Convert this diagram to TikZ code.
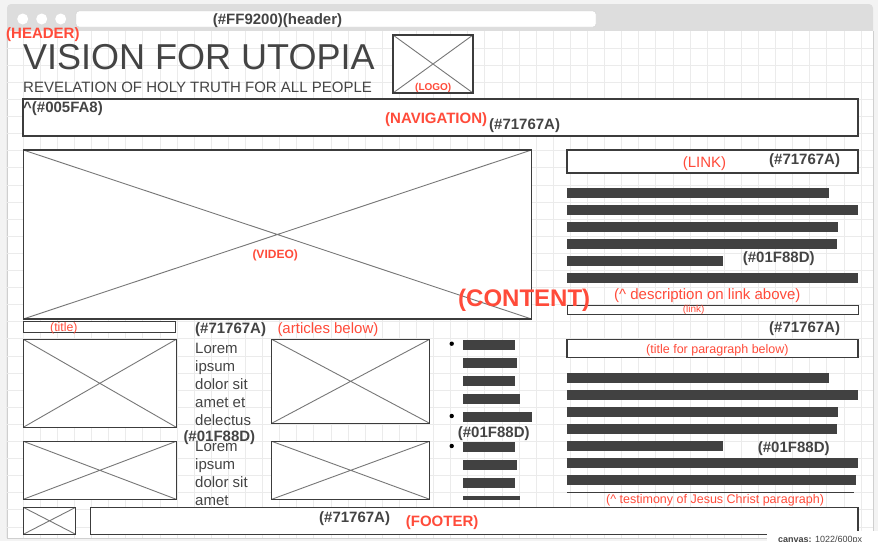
\documentclass[tikz,border=0pt]{standalone}
\usepackage{fontspec}
\setmainfont{Liberation Sans}
\definecolor{ink}{HTML}{444444}
\definecolor{boxline}{HTML}{3C3C3C}
\definecolor{crossgray}{HTML}{777777}
\definecolor{barfill}{HTML}{414141}
\definecolor{notered}{HTML}{FF4B3A}
\definecolor{gridgray}{HTML}{EBEBEB}
\definecolor{chrome}{HTML}{DDDDDD}
\definecolor{chromeline}{HTML}{CFCFCF}
\definecolor{pagebg}{HTML}{F3F3F3}
\newcommand{\pxfont}[1]{\fontsize{#1}{#1}\selectfont}
\tikzset{
  wirebox/.style={draw=boxline, line width=1.05pt, fill=white},
  imgbox/.style={wirebox, path picture={
      \draw[crossgray, line width=0.9pt] (path picture bounding box.north west) -- (path picture bounding box.south east)
        (path picture bounding box.north east) -- (path picture bounding box.south west);}},
  textbar/.style={fill=barfill},
  gridline/.style={draw=gridgray, line width=0.8pt},
  lbl/.style={inner sep=0pt, anchor=base west},
  hexlbl/.style={lbl, text=ink, font=\pxfont{15}\bfseries},
  redbold/.style={lbl, text=notered, font=\bfseries},
  rednote/.style={lbl, text=notered},
  bodytxt/.style={lbl, text=ink, font=\pxfont{15}},
}
\begin{document}
\begin{tikzpicture}[x=1pt, y=-1pt]
  \useasboundingbox (0,0) rectangle (878,541);
  \clip (0,0) rectangle (878,541);
  % window chrome
  \fill[pagebg] (0,0) rectangle (878,541);
  \fill[chrome, rounded corners=4pt] (7,4) rectangle (873,44);
  \fill[white] (7,31) rectangle (873,538);
  \draw[chromeline] (7,31) -- (7,538) -- (873,538) -- (873,31);
  \foreach \i in {0,...,50}
    \draw[gridline] ({6+17.1*\i},31) -- ({6+17.1*\i},538);
  \foreach \j in {1,...,29}
    \draw[gridline] (7,{31+17.1*\j}) -- (873,{31+17.1*\j});
  \foreach \cx in {22.7,41.7,60.7}
    \fill[white] (\cx,19) circle (5.5);
  \draw[chromeline, fill=white, rounded corners=3pt] (76,11) rectangle (596,27);
  \node[hexlbl, anchor=base] (urltxt) at (277.5,24.5) {(\#FF9200)(header)};
  \node[redbold, font=\pxfont{15}\bfseries] (headerlbl) at (6,38.5) {(HEADER)};

  % header
  \node[lbl, text=ink, font=\pxfont{36}] (sitetitle) at (23,69.3) {VISION FOR UTOPIA};
  \node[lbl, text=ink, font=\pxfont{15}] (subtitle) at (23,92.3) {REVELATION OF HOLY TRUTH FOR ALL PEOPLE};
  \draw[imgbox] (393,35) rectangle (473,93);
  \node[redbold, font=\pxfont{10}\bfseries] (logolbl) at (415,90.8) {(LOGO)};

  % navigation
  \draw[wirebox] (23,99) rectangle (858,136);
  \node[hexlbl] (navhex) at (23,112.8) {\^{}(\#005FA8)};
  \node[redbold, font=\pxfont{15}\bfseries] (navlbl) at (385,123.8) {(NAVIGATION)};
  \node[hexlbl] (navcolor) at (489,129.5) {(\#71767A)};

  % video
  \draw[imgbox] (23.3,150) rectangle (531.5,319);
  \node[redbold, font=\pxfont{12}\bfseries] (videolbl) at (252.3,258) {(VIDEO)};

  % right column
  \draw[wirebox] (567,150) rectangle (858,173);
  \node[rednote, font=\pxfont{15}] (linklbl) at (682.7,167.2) {(LINK)};
  \node[hexlbl] (linkhex) at (769,164.5) {(\#71767A)};
  \foreach \y/\e in {188/829, 205/858, 222/838, 239/837, 256/723, 273/858}
    \fill[textbar] (567,\y) rectangle (\e,{\y+9.6});
  \node[hexlbl] (deschex) at (742.7,262) {(\#01F88D)};
  \node[rednote, font=\pxfont{15}] (desclbl) at (614,299) {(\^{} description on link above)};
  \draw[wirebox, line width=1pt] (567,305) rectangle (858,314);
  \node[rednote, font=\pxfont{10}] (smalllink) at (682.7,312.3) {(link)};
  \node[hexlbl] (parahex) at (769,332.5) {(\#71767A)};
  \draw[wirebox] (567,339.3) rectangle (858,357.3);
  \node[rednote, font=\pxfont{12.5}] (paratitle) at (646,353.2) {(title for paragraph below)};
  \foreach \y/\e in {373/829, 390/858, 407/838, 424/837, 441/723, 458/858, 475/856}
    \fill[textbar] (567,\y) rectangle (\e,{\y+9.6});
  \node[hexlbl] (testhex) at (757.7,452) {(\#01F88D)};
  \draw[boxline, line width=1pt] (567,492.3) -- (854,492.3);
  \node[rednote, font=\pxfont{12.5}] (testlbl) at (606,503.9) {(\^{} testimony of Jesus Christ paragraph)};

  \node[redbold, font=\pxfont{24}\bfseries] (contentlbl) at (458,306.3) {(CONTENT)};

  % articles
  \draw[wirebox, line width=1pt] (23.3,321.3) rectangle (175.7,332.3);
  \node[rednote, font=\pxfont{12.3}] (titlelbl) at (50,331) {(title)};
  \node[hexlbl] (arthex) at (195,333.5) {(\#71767A)};
  \node[rednote, font=\pxfont{15}] (artlbl) at (277.3,333.3) {(articles below)};
  \draw[imgbox] (23.3,339.3) rectangle (176.3,427.3);
  \draw[imgbox] (271.7,339.3) rectangle (429.7,423.3);
  \draw[imgbox] (23.3,441.3) rectangle (176.3,499.3);
  \draw[imgbox] (271.7,441.3) rectangle (429.7,499.3);
  \foreach \t [count=\i] in {Lorem, ipsum, dolor sit, amet et, delectus}
    \node[bodytxt] (loremA\i) at (195,{335.3+18*\i}) {\t};
  \foreach \t [count=\i] in {Lorem, ipsum, dolor sit, amet}
    \node[bodytxt] (loremB\i) at (195,{433.5+18*\i}) {\t};
  \node[hexlbl] (arthexb) at (183.3,441.5) {(\#01F88D)};

  % list
  \foreach \by in {343.7,416,446}
    \fill[black] (451.7,\by) circle (2.2);
  \foreach \y/\e in {340/515, 358.3/517, 376.3/515, 394.3/520, 412.3/532, 442/515, 460.3/517, 478.3/515}
    \fill[textbar] (463,\y) rectangle (\e,{\y+9.7});
  \fill[textbar] (463,496) rectangle (520,500);
  \node[hexlbl] (listhex) at (457.7,437.5) {(\#01F88D)};

  % footer
  \draw[imgbox] (23.3,507.3) rectangle (75.7,534.3);
  \draw[wirebox] (90.3,507.3) rectangle (858,534.3);
  \node[hexlbl] (foothex) at (319,522) {(\#71767A)};
  \node[redbold, font=\pxfont{15}\bfseries] (footlbl) at (405.7,526.5) {(FOOTER)};

  \fill[white] (767,531) rectangle (878,541);
  \node[lbl, text=ink, font=\pxfont{9}] (canvaslbl) at (778,542) {\textbf{canvas:} 1022/600px};
\end{tikzpicture}
\end{document}
